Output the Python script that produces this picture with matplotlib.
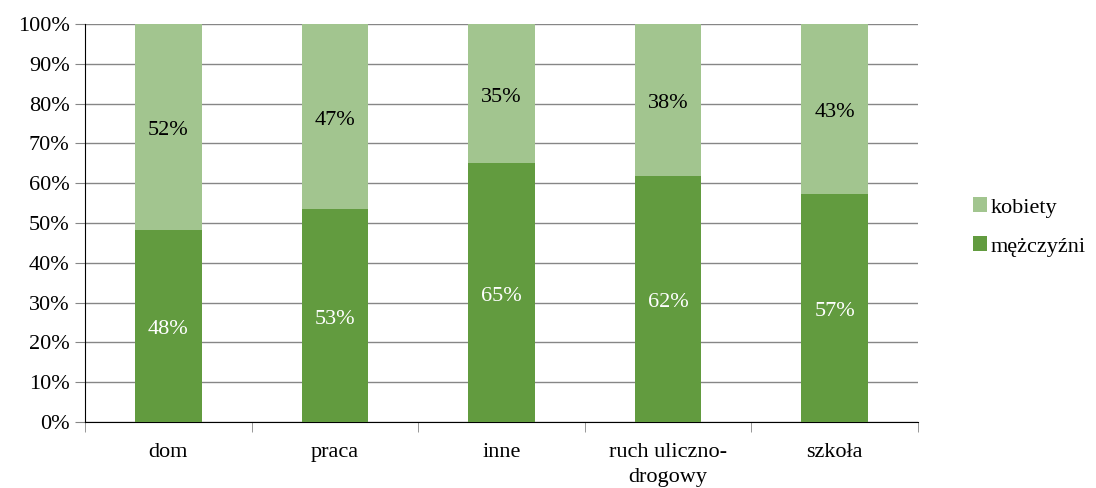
import numpy as np
import matplotlib
matplotlib.use('Agg')
import matplotlib.pyplot as plt
from matplotlib.ticker import FixedLocator, NullFormatter

plt.rcParams['font.family'] = ['Liberation Serif', 'DejaVu Serif']

# Dane
kategorie = ['dom', 'praca', 'inne', 'ruch uliczno-\ndrogowy', 'szkoła']
mezczyzni = [48.3, 53.4, 65.1, 61.8, 57.3]
kobiety = [51.7, 46.6, 34.9, 38.2, 42.7]

kolor_m = '#629b3f'
kolor_k = '#a2c58f'
fs = 16

fig = plt.figure(figsize=(10.96, 4.88), dpi=100)
ax = fig.add_axes([85 / 1096, 1 - 422 / 488, (918 - 85) / 1096, (422 - 24) / 488])

x = np.arange(len(kategorie))
ax.bar(x, mezczyzni, width=0.4, color=kolor_m, label='mężczyźni', zorder=3)
ax.bar(x, kobiety, width=0.4, bottom=mezczyzni, color=kolor_k, label='kobiety', zorder=3)

# Etykiety wartości (lekko w dół, jak w oryginale)
for i in range(len(kategorie)):
    ax.text(x[i], mezczyzni[i] / 2 - 1, f'{round(mezczyzni[i])}%', ha='center', va='center',
            color='white', fontsize=fs, zorder=4)
    ax.text(x[i], mezczyzni[i] + kobiety[i] / 2 - 1, f'{round(kobiety[i])}%', ha='center',
            va='center', color='black', fontsize=fs, zorder=4)

ax.set_xlim(-0.5, len(kategorie) - 0.5)
ax.set_ylim(0, 100)
ax.set_yticks(np.arange(0, 101, 10))
ax.set_yticklabels([f'{v}%' for v in range(0, 101, 10)], fontsize=fs)
ax.yaxis.grid(True, color='#868686', linewidth=1, zorder=0)
ax.tick_params(axis='y', length=7, color='#868686', pad=4)

# Kategorie na osi x, kreski między kategoriami
ax.set_xticks(x)
ax.set_xticklabels(kategorie, fontsize=fs, linespacing=1.45)
ax.tick_params(axis='x', which='major', length=0, pad=15)
ax.xaxis.set_minor_locator(FixedLocator(np.arange(-0.5, len(kategorie), 1)))
ax.xaxis.set_minor_formatter(NullFormatter())
ax.tick_params(axis='x', which='minor', length=7, color='#868686')

for s in ['top', 'right']:
    ax.spines[s].set_visible(False)
ax.spines['left'].set_color('black')
ax.spines['bottom'].set_color('black')

h, l = ax.get_legend_handles_labels()
ax.legend(h[::-1], l[::-1], loc='center left', bbox_to_anchor=(1.055, 0.49), frameon=False,
          fontsize=fs, handlelength=0.65, handleheight=0.65, handletextpad=0.15,
          labelspacing=0.85, borderaxespad=0)

fig.savefig('out.png', dpi=100)
